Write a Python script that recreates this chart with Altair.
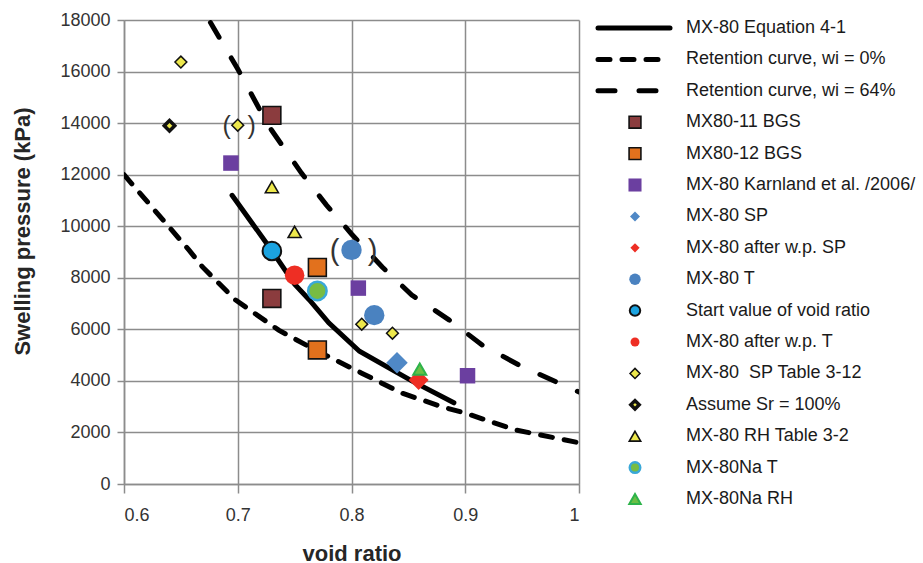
import altair as alt
import pandas as pd

FONT = "Liberation Sans"

# ---------------- data ----------------
eq_e = [0.695, 0.73, 0.75, 0.763, 0.78, 0.807, 0.853, 0.89]
eq_p = [11200, 9050, 7750, 7140, 6250, 5150, 4000, 3150]

wi0_e = [0.6, 0.657, 0.669, 0.698, 0.736, 0.768, 0.809, 0.844, 0.88, 0.90, 0.944, 1.0]
wi0_p = [12000, 9080, 8420, 7140, 5970, 5200, 4300, 3530, 2990, 2750, 2100, 1600]

wi64_e = [0.676, 0.70, 0.727, 0.756, 0.778, 0.80, 0.827, 0.853, 0.886, 0.915, 0.947, 0.982, 1.0]
wi64_p = [17900, 16100, 13900, 12060, 10820, 9700, 8420, 7330, 6360, 5390, 4620, 3920, 3570]

bgs11_e = [0.73, 0.73]
bgs11_p = [14300, 7200]
bgs12_e = [0.77, 0.77]
bgs12_p = [8400, 5200]
karn_e = [0.694, 0.806, 0.902]
karn_p = [12450, 7600, 4200]
sp_e = [0.84]
sp_p = [4700]
spwp_e = [0.859]
spwp_p = [4030]
t_e = [0.80, 0.82]
t_p = [9080, 6550]
start_e = [0.73]
start_p = [9040]
twp_e = [0.75]
twp_p = [8100]
tab312_e = [0.65, 0.70, 0.809, 0.836]
tab312_p = [16370, 13920, 6200, 5850]
sr_e = [0.64]
sr_p = [13900]
rh_e = [0.73, 0.75]
rh_p = [11520, 9780]
nat_e = [0.77]
nat_p = [7490]
narh_e = [0.86]
narh_p = [4460]

paren_e = [0.70, 0.80]
paren_p = [13920, 9080]

x_ticks = [0.6, 0.7, 0.8, 0.9, 1.0]
y_ticks = [0, 2000, 4000, 6000, 8000, 10000, 12000, 14000, 16000, 18000]

line_names = ["MX-80 Equation 4-1", "Retention curve, wi = 0%", "Retention curve, wi = 64%"]
point_names = ["MX80-11 BGS", "MX80-12 BGS", "MX-80 Karnland et al. /2006/", "MX-80 SP",
               "MX-80 after w.p. SP", "MX-80 T", "Start value of void ratio", "MX-80 after w.p. T",
               "MX-80\u00a0 SP Table 3-12", "Assume Sr = 100%", "MX-80 RH Table 3-2", "MX-80Na T", "MX-80Na RH"]
legend_labels = line_names + point_names
legend_order = list(range(len(legend_labels)))

# ---------------- styles ----------------
GRID = "#8c8c8c"
line_styles = [
    dict(strokeWidth=5, strokeCap="round"),
    dict(strokeWidth=5, strokeCap="round", strokeDash=[12, 12]),
    dict(strokeWidth=5, strokeCap="round", strokeDash=[17, 24]),
]
line_data = [(eq_e, eq_p), (wi0_e, wi0_p), (wi64_e, wi64_p)]

# (shape, plot size, legend size, fill, stroke, strokeWidth)
point_styles = [
    ("square", 320, 140, "#8B3C3E", "#111111", 1.6),
    ("square", 320, 140, "#E2711D", "#111111", 1.6),
    ("square", 240, 170, "#6B3FA0", None, 0),
    ("diamond", 460, 100, "#4F88C6", None, 0),
    ("diamond", 400, 85, "#EE2E24", None, 0),
    ("circle", 415, 130, "#4A82C0", None, 0),
    ("circle", 346, 110, "#1BA3E0", "#111111", 2),
    ("circle", 380, 80, "#EE2E24", None, 0),
    ("diamond", 140, 100, "#EDE84C", "#111111", 1.5),
    ("diamond", 110, 70, "#EDE84C", "#111111", 3.5),
    ("triangle-up", 170, 130, "#EDE84C", "#111111", 1.6),
    ("circle", 340, 110, "#77BC43", "#3AA8D8", 2.5),
    ("triangle-up", 170, 130, "#6BBF45", "#2DB34A", 2),
]
point_data = [(bgs11_e, bgs11_p), (bgs12_e, bgs12_p), (karn_e, karn_p), (sp_e, sp_p),
              (spwp_e, spwp_p), (t_e, t_p), (start_e, start_p), (twp_e, twp_p),
              (tab312_e, tab312_p), (sr_e, sr_p), (rh_e, rh_p), (nat_e, nat_p), (narh_e, narh_p)]

X = alt.X("e:Q", scale=alt.Scale(domain=[0.6, 1.0], nice=False, zero=False),
          axis=alt.Axis(values=x_ticks, format="~g", title="void ratio",
                        tickSize=9, labelPadding=13, titlePadding=19))
Y = alt.Y("p:Q", scale=alt.Scale(domain=[0, 18000], nice=False),
          axis=alt.Axis(values=y_ticks, format="d", title="Swelling pressure (kPa)",
                        tickSize=7, labelPadding=7, titlePadding=25, titleY=211))

layers = []
for (e, p), st in zip(line_data, line_styles):
    layers.append(alt.Chart(pd.DataFrame({"e": e, "p": p}))
                  .mark_line(color="black", clip=True, **st).encode(x=X, y=Y))


def point_kw(shape, size, fill, stroke, sw):
    kw = dict(shape=shape, size=size, filled=True, fill=fill, opacity=1)
    if stroke:
        kw.update(stroke=stroke, strokeWidth=sw)
    else:
        kw.update(strokeWidth=0)
    return kw


for (e, p), (shape, size, lsize, fill, stroke, sw) in zip(point_data, point_styles):
    layers.append(alt.Chart(pd.DataFrame({"e": e, "p": p}))
                  .mark_point(**point_kw(shape, size, fill, stroke, sw)).encode(x=X, y=Y))

# parentheses around questionable values
par_df0 = pd.DataFrame({"e": paren_e[:1], "p": paren_p[:1]})
par_df1 = pd.DataFrame({"e": paren_e[1:], "p": paren_p[1:]})
for df, fs, dxl, dxr in [(par_df0, 25, -11, 14), (par_df1, 29, -17, 21)]:
    for ch, dx in [("(", dxl), (")", dxr)]:
        layers.append(alt.Chart(df).mark_text(text=ch, dx=dx, dy=1, fontSize=fs, font=FONT,
                                              color="#333333", align="center", baseline="middle")
                      .encode(x=X, y=Y))

main = alt.layer(*layers).properties(width=455, height=464)

# ---------------- legend panel ----------------
# item i centred at 8 + 31.4*i px below the panel top (panel height 464)
LY = alt.Y("i:Q", scale=alt.Scale(domain=[-0.2548, 14.522], reverse=True, nice=False, zero=False),
           axis=None)
leg_layers = []
for k, (name, st) in enumerate(zip(line_names, line_styles)):
    leg_layers.append(alt.Chart(pd.DataFrame({"label": [name], "i": [legend_order[k]]}))
                      .mark_rule(color="black", **st)
                      .encode(x=alt.value(1), x2=alt.value(73), y=LY))
for k, (name, (shape, size, lsize, fill, stroke, sw)) in enumerate(zip(point_names, point_styles)):
    leg_layers.append(alt.Chart(pd.DataFrame({"label": [name], "i": [legend_order[k + 3]]}))
                      .mark_point(**point_kw(shape, lsize, fill, stroke, sw))
                      .encode(x=alt.value(38), y=LY))
leg_layers.append(alt.Chart(pd.DataFrame({"label": legend_labels, "i": legend_order}))
                  .mark_text(align="left", baseline="middle", fontSize=18, font=FONT, color="#1a1a1a")
                  .encode(x=alt.value(89), y=LY, text="label:N"))
legend = alt.layer(*leg_layers).properties(width=300, height=464)

chart = (alt.hconcat(main, legend, spacing=15)
         .properties(padding={"left": 11, "top": 11, "right": 5, "bottom": 5}, background="white")
         .configure_view(stroke=None)
         .configure_axis(grid=True, gridColor=GRID, gridWidth=1.5, domainColor=GRID, domainWidth=1.5,
                         tickColor=GRID, tickWidth=1.5, labelFont=FONT, labelFontSize=18,
                         labelColor="#333333", titleFont=FONT, titleFontSize=22,
                         titleFontWeight="bold", titleColor="#262626"))

chart.save("out.html", embed_options={"renderer": "svg", "actions": False})
